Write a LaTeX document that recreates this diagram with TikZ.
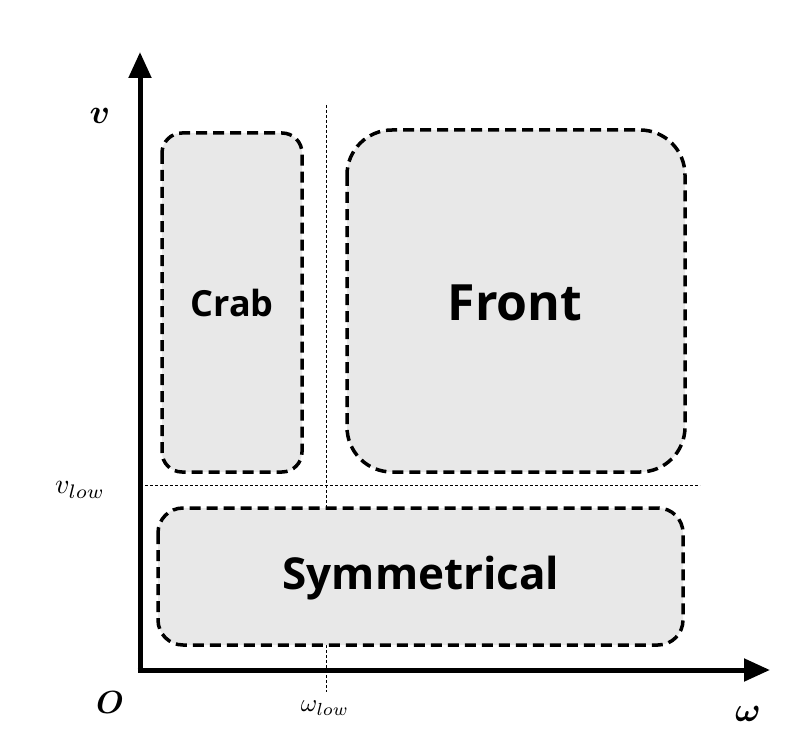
\documentclass[tikz,border=0pt]{standalone}
\usepackage{amsmath,bm}
\usepackage{fontspec}
\setsansfont{Open Sans}
\usetikzlibrary{arrows.meta}
\begin{document}
\begin{tikzpicture}[x=1pt,y=-1pt,
  region/.style={draw=black,fill=gray!18,line width=3.5pt,dash pattern=on 11pt off 6pt},
  axis/.style={line width=5pt,-{Triangle[length=26pt,width=22pt]}},
  guide/.style={line width=0.8pt,dash pattern=on 3pt off 2pt},
  mlbl/.style={inner sep=0pt}]
\useasboundingbox (0,0) rectangle (800,754);
\coordinate (g1) at (326,105); \coordinate (g2) at (326,692);
\coordinate (h1) at (140,485); \coordinate (h2) at (700,485);
\draw[guide] (g1) -- (g2);
\draw[guide] (h1) -- (h2);
\draw[region,rounded corners=20pt] (162,133) rectangle (302,472);
\draw[region,rounded corners=45pt] (347,130) rectangle (685,472);
\draw[region,rounded corners=25pt] (158,508) rectangle (683,645);
\node[font=\sffamily\bfseries\fontsize{36}{40}\selectfont] (crab) at (232,303) {Crab};
\node[font=\sffamily\bfseries\fontsize{50}{54}\selectfont] (front) at (515,303) {Front};
\node[font=\sffamily\bfseries\fontsize{44}{48}\selectfont] (sym) at (421,578) {Symmetrical};
\coordinate (o) at (140,670);
\coordinate (ytop) at (140,52);
\coordinate (xend) at (770,670);
\draw[axis] ([yshift=2.5pt]o) -- (ytop);
\draw[axis] ([xshift=-2.5pt]o) -- (xend);
\node[mlbl,scale=3.4] (v) at (100,116) {$\bm{v}$};
\node[mlbl,scale=3.2] (O) at (110,703) {$\bm{O}$};
\node[mlbl,scale=3.4] (w) at (748,714) {$\bm{\omega}$};
\node[mlbl,scale=2.8] (vl) at (80,490) {$v_{low}$};
\node[mlbl,scale=2.5] (wl) at (325,708) {$\omega_{low}$};
\end{tikzpicture}
\end{document}
